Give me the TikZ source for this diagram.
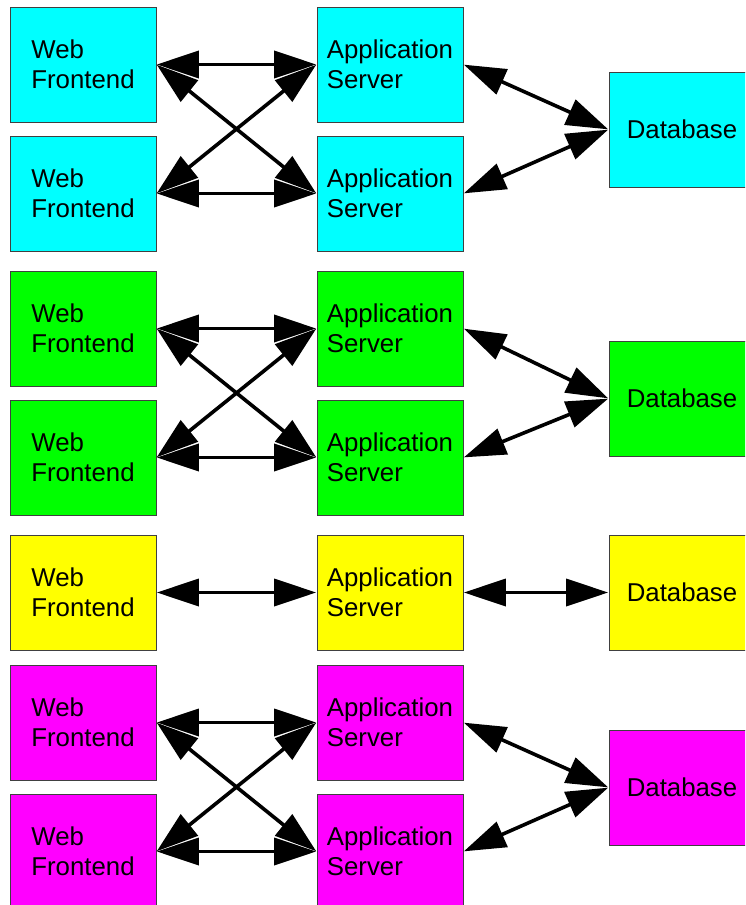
\documentclass[tikz,border=0pt]{standalone}
\usepackage{fontspec}
\setmainfont{Liberation Sans}
\usetikzlibrary{arrows.meta}
\definecolor{cy}{HTML}{00FFFF}
\definecolor{gr}{HTML}{00FF00}
\definecolor{ye}{HTML}{FFFF00}
\definecolor{ma}{HTML}{FF00FF}
\tikzset{
  box/.style={draw=black!75, line width=0.9pt, minimum width=146pt, minimum height=115pt,
    inner sep=0pt, align=left, font=\fontsize{25.8}{30}\selectfont},
  link/.style={line width=3.6pt, {Triangle[length=42pt,width=27pt]}-{Triangle[length=42pt,width=27pt]}, shorten <=0.4pt, shorten >=0.4pt}
}
\begin{document}
\begin{tikzpicture}[x=1pt,y=-1pt]
\useasboundingbox (0,0) rectangle (745,905);
\clip (0,0) rectangle (745,905);
% cyan
\node[box,fill=cy] (w1) at (83,64.5) {Web\\Frontend};
\node[box,fill=cy] (w2) at (83,193.5) {Web\\Frontend};
\node[box,fill=cy] (a1) at (390,64.5) {Application\\Server};
\node[box,fill=cy] (a2) at (390,193.5) {Application\\Server};
\node[box,fill=cy] (d1) at (682,129.5) {Database};
% green
\node[box,fill=gr] (w3) at (83,328.5) {Web\\Frontend};
\node[box,fill=gr] (w4) at (83,457.5) {Web\\Frontend};
\node[box,fill=gr] (a3) at (390,328.5) {Application\\Server};
\node[box,fill=gr] (a4) at (390,457.5) {Application\\Server};
\node[box,fill=gr] (d2) at (682,398.5) {Database};
% yellow
\node[box,fill=ye] (w5) at (83,592.5) {Web\\Frontend};
\node[box,fill=ye] (a5) at (390,592.5) {Application\\Server};
\node[box,fill=ye] (d3) at (682,592.5) {Database};
% magenta
\node[box,fill=ma] (w6) at (83,722.5) {Web\\Frontend};
\node[box,fill=ma] (w7) at (83,851.5) {Web\\Frontend};
\node[box,fill=ma] (a6) at (390,722.5) {Application\\Server};
\node[box,fill=ma] (a7) at (390,851.5) {Application\\Server};
\node[box,fill=ma] (d4) at (682,787.5) {Database};
% connectors
\foreach \wa/\wb/\aa/\ab/\d in {w1/w2/a1/a2/d1, w3/w4/a3/a4/d2, w6/w7/a6/a7/d4}{
  \draw[link] (\wa.east) -- (\aa.west);
  \draw[link] (\wb.east) -- (\ab.west);
  \draw[link] (\wa.east) -- (\ab.west);
  \draw[link] (\wb.east) -- (\aa.west);
  \draw[link] (\aa.east) -- (\d.west);
  \draw[link] (\ab.east) -- (\d.west);
}
\draw[link] (w5.east) -- (a5.west);
\draw[link] (a5.east) -- (d3.west);
\end{tikzpicture}
\end{document}
